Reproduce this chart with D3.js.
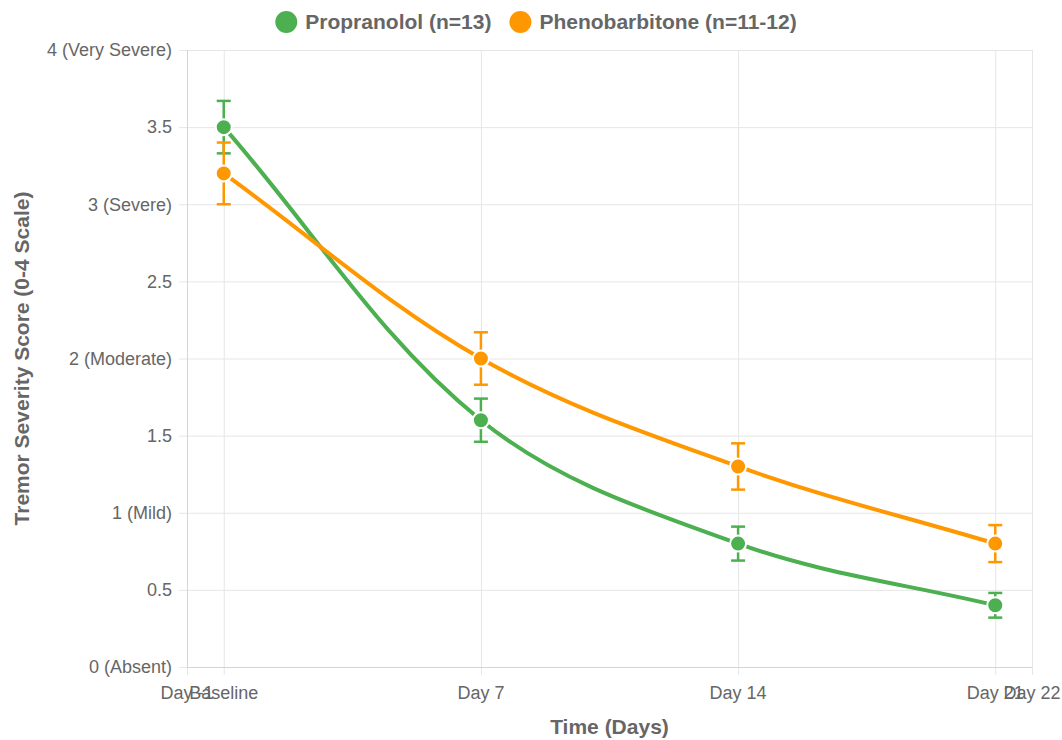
<!DOCTYPE html>
<html lang="en">
<head>
<meta charset="UTF-8">
<title>Tremor Severity</title>
<script src="https://d3js.org/d3.v7.min.js"></script>
<style>
  html, body { margin: 0; padding: 0; background: #fff; }
  body { font-family: "Liberation Sans", Arial, Helvetica, sans-serif; }
  svg text { fill: #666; }
</style>
</head>
<body>
<script>
// data
const days = [0, 7, 14, 21];
const propranolol = [3.5, 1.6, 0.8, 0.4];
const propranololErr = [0.17, 0.14, 0.11, 0.08];
const phenobarbitone = [3.2, 2.0, 1.3, 0.8];
const phenobarbitoneErr = [0.2, 0.17, 0.15, 0.12];
const xTicks = [-1, 0, 7, 14, 21, 22];
const xTickLabels = ["Day -1", "Baseline", "Day 7", "Day 14", "Day 21", "Day 22"];
const yTicks = [0, 0.5, 1, 1.5, 2, 2.5, 3, 3.5, 4];
const yTickLabels = ["0 (Absent)", "0.5", "1 (Mild)", "1.5", "2 (Moderate)", "2.5", "3 (Severe)", "3.5", "4 (Very Severe)"];

const series = [
  { name: "Propranolol (n=13)", values: propranolol, err: propranololErr, color: "#4CAF50" },
  { name: "Phenobarbitone (n=11-12)", values: phenobarbitone, err: phenobarbitoneErr, color: "#FF9800" }
];

const W = 1062, H = 740;
const margin = { top: 50, right: 30, bottom: 73, left: 187 };
const grid = "#e6e6e6";

const svg = d3.select("body").append("svg")
  .attr("width", W).attr("height", H);

const x = d3.scaleLinear().domain([-1, 22]).range([margin.left, W - margin.right]);
const y = d3.scaleLinear().domain([0, 4]).range([H - margin.bottom, margin.top]);

// grid lines (Chart.js style, extending 8px past the axis as tick marks)
const g = svg.append("g");
g.selectAll(".hg").data(yTicks).enter().append("line")
  .attr("x1", x(-1) - 8).attr("x2", x(22))
  .attr("y1", d => y(d) + 0.5).attr("y2", d => y(d) + 0.5)
  .attr("stroke", grid).attr("stroke-width", 1);
g.selectAll(".vg").data(xTicks).enter().append("line")
  .attr("x1", d => x(d) + 0.5).attr("x2", d => x(d) + 0.5)
  .attr("y1", y(4)).attr("y2", y(0) + 8)
  .attr("stroke", grid).attr("stroke-width", 1);
// axis border lines
g.append("line").attr("x1", x(-1) + 0.5).attr("x2", x(-1) + 0.5)
  .attr("y1", y(4)).attr("y2", y(0)).attr("stroke", "#d4d4d4");
g.append("line").attr("x1", x(-1)).attr("x2", x(22))
  .attr("y1", y(0) + 0.5).attr("y2", y(0) + 0.5).attr("stroke", "#d4d4d4");

// tick labels
svg.append("g").selectAll("text").data(yTicks).enter().append("text")
  .attr("x", x(-1) - 15).attr("y", d => y(d))
  .attr("dy", "0.35em").attr("text-anchor", "end")
  .style("font-size", "18px")
  .text((d, i) => yTickLabels[i]);
svg.append("g").selectAll("text").data(xTicks).enter().append("text")
  .attr("x", d => x(d)).attr("y", y(0) + 26)
  .attr("dy", "0.35em").attr("text-anchor", "middle")
  .style("font-size", "18px")
  .text((d, i) => xTickLabels[i]);

// axis titles
svg.append("text")
  .attr("x", (x(-1) + x(22)) / 2).attr("y", 727)
  .attr("dy", "0.35em").attr("text-anchor", "middle")
  .style("font-size", "21px").style("font-weight", "bold")
  .text("Time (Days)");
svg.append("text")
  .attr("transform", `translate(22,${(y(0) + y(4)) / 2}) rotate(-90)`)
  .attr("dy", "0.35em").attr("text-anchor", "middle")
  .style("font-size", "21px").style("font-weight", "bold")
  .text("Tremor Severity Score (0-4 Scale)");

// Chart.js-like spline
function splinePath(pts, t) {
  const p = d3.path();
  const ctrl = pts.map((cur, i) => {
    const prev = pts[i - 1] || cur, next = pts[i + 1] || cur;
    const d01 = Math.hypot(cur[0] - prev[0], cur[1] - prev[1]);
    const d12 = Math.hypot(next[0] - cur[0], next[1] - cur[1]);
    let s01 = d01 / (d01 + d12), s12 = d12 / (d01 + d12);
    if (isNaN(s01)) s01 = 0;
    if (isNaN(s12)) s12 = 0;
    const fa = t * s01, fb = t * s12;
    return {
      prev: [cur[0] - fa * (next[0] - prev[0]), cur[1] - fa * (next[1] - prev[1])],
      next: [cur[0] + fb * (next[0] - prev[0]), cur[1] + fb * (next[1] - prev[1])]
    };
  });
  p.moveTo(pts[0][0], pts[0][1]);
  for (let i = 1; i < pts.length; i++) {
    const a = ctrl[i - 1].next, b = ctrl[i].prev;
    p.bezierCurveTo(a[0], a[1], b[0], b[1], pts[i][0], pts[i][1]);
  }
  return p.toString();
}

series.forEach(s => {
  const pts = days.map((d, i) => [x(d), y(s.values[i])]);
  svg.append("path")
    .attr("d", splinePath(pts, 0.35))
    .attr("fill", "none").attr("stroke", s.color).attr("stroke-width", 4);
});

// error bars
series.forEach(s => {
  const eg = svg.append("g").attr("stroke", s.color).attr("stroke-width", 2.5);
  days.forEach((d, i) => {
    const cx = x(d), top = y(s.values[i] + s.err[i]), bot = y(s.values[i] - s.err[i]);
    eg.append("line").attr("x1", cx).attr("x2", cx).attr("y1", top).attr("y2", bot);
    eg.append("line").attr("x1", cx - 7).attr("x2", cx + 7).attr("y1", top).attr("y2", top);
    eg.append("line").attr("x1", cx - 7).attr("x2", cx + 7).attr("y1", bot).attr("y2", bot);
  });
});

// points
series.forEach(s => {
  svg.append("g").selectAll("circle").data(days).enter().append("circle")
    .attr("cx", d => x(d)).attr("cy", (d, i) => y(s.values[i]))
    .attr("r", 8).attr("fill", s.color)
    .attr("stroke", "#fff").attr("stroke-width", 2);
});

// legend
const legend = svg.append("g");
let lx = 0;
series.forEach(s => {
  const item = legend.append("g").attr("transform", `translate(${lx},0)`);
  item.append("circle").attr("cx", 11).attr("cy", 0).attr("r", 11).attr("fill", s.color);
  const t = item.append("text").attr("x", 30).attr("y", 0).attr("dy", "0.35em")
    .style("font-size", "21px").style("font-weight", "bold").text(s.name);
  lx += 30 + t.node().getComputedTextLength() + 18;
});
legend.attr("transform", `translate(${(W - (lx - 18)) / 2 + 5},22)`);
</script>
</body>
</html>
